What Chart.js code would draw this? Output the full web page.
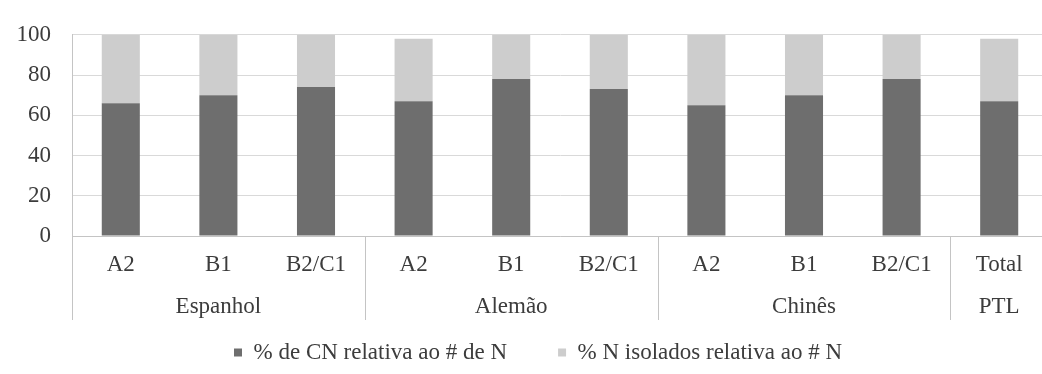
<!DOCTYPE html>
<html>
<head>
<meta charset="utf-8">
<script src="https://cdn.jsdelivr.net/npm/chart.js@4.4.0/dist/chart.umd.min.js"></script>
<style>
    body { margin: 0; overflow: hidden; background: #ffffff; }
    #chart_container { width: 1048px; height: 374px; }
</style>
</head>
<body>
<div id="chart_container"><canvas id="bar_chart"></canvas></div>
<script>

let levels = ['A2', 'B1', 'B2/C1', 'A2', 'B1', 'B2/C1', 'A2', 'B1', 'B2/C1', 'Total'];
let groups = ['Espanhol', 'Alemão', 'Chinês', 'PTL'];
let group_sizes = [3, 3, 3, 1];
let cn_values = [66, 70, 74, 67, 78, 73, 65, 70, 78, 67];
let isolated_values = [34, 30, 26, 31, 22, 27, 35, 30, 22, 31];
let y_ticks = [0, 20, 40, 60, 80, 100];

const serif = "'Liberation Serif', 'Times New Roman', serif";
const font_size = 23;
const text_color = '#3c3c3c';
const line_color = '#c4c4c4';

// second row of the x axis: group names and the separators between groups
const groupLabels = {
    id: 'groupLabels',
    afterLayout(chart) {
        // the legend sits a little right of the canvas centre in the original
        chart.legend.left += 14;
        chart.legend.right += 14;
    },
    afterDraw(chart) {
        const ctx = chart.ctx;
        const x = chart.scales.x;
        const bottom = chart.chartArea.bottom;
        const half = (x.getPixelForValue(1) - x.getPixelForValue(0)) / 2;

        ctx.save();
        ctx.font = `${font_size}px ${serif}`;
        ctx.fillStyle = text_color;
        ctx.textAlign = 'center';
        ctx.textBaseline = 'middle';
        ctx.strokeStyle = line_color;
        ctx.lineWidth = 1;

        let start = 0;
        groups.forEach((name, i) => {
            const end = start + group_sizes[i] - 1;
            const center = (x.getPixelForValue(start) + x.getPixelForValue(end)) / 2;
            ctx.fillText(name, center, bottom + 71);

            const edge = Math.round(x.getPixelForValue(start) - half) + 0.5;
            ctx.beginPath();
            ctx.moveTo(edge, bottom);
            ctx.lineTo(edge, bottom + 84);
            ctx.stroke();
            start = end + 1;
        });
        ctx.restore();
    }
};

var ctx = document.getElementById('bar_chart').getContext('2d');
var bar_chart = new Chart(ctx, {
    type: 'bar',
    data: {
        labels: levels,
        datasets: [
            {
                label: '% de CN relativa ao # de N',
                data: cn_values,
                backgroundColor: '#6e6e6e',
                barPercentage: 0.39,
                categoryPercentage: 1.0
            },
            {
                label: '% N isolados relativa ao # N',
                data: isolated_values,
                backgroundColor: '#cdcdcd',
                barPercentage: 0.39,
                categoryPercentage: 1.0
            }
        ]
    },
    options: {
        responsive: true,
        maintainAspectRatio: false,
        animation: false,
        layout: { padding: { top: 16, left: 0, right: 0, bottom: 0 } },
        plugins: {
            tooltip: { enabled: false },
            legend: {
                position: 'bottom',
                labels: {
                    boxWidth: 8,
                    boxHeight: 8,
                    padding: 51,
                    color: text_color,
                    font: { family: serif, size: font_size }
                }
            }
        },
        scales: {
            x: {
                stacked: true,
                grid: { display: false, drawTicks: false },
                border: { display: true, color: line_color },
                ticks: {
                    color: text_color,
                    padding: 15,
                    maxRotation: 0,
                    font: { family: serif, size: font_size }
                },
                afterFit: (scale) => { scale.height = 54; }
            },
            y: {
                stacked: true,
                min: 0,
                max: 100,
                grid: { color: '#d9d9d9', drawTicks: false },
                border: { display: true, color: line_color },
                afterBuildTicks: (scale) => { scale.ticks = y_ticks.map(v => ({ value: v })); },
                ticks: {
                    color: text_color,
                    padding: 21,
                    font: { family: serif, size: font_size }
                },
                afterFit: (scale) => { scale.width = 72; }
            }
        }
    },
    plugins: [groupLabels]
});

</script>
</body>
</html>
